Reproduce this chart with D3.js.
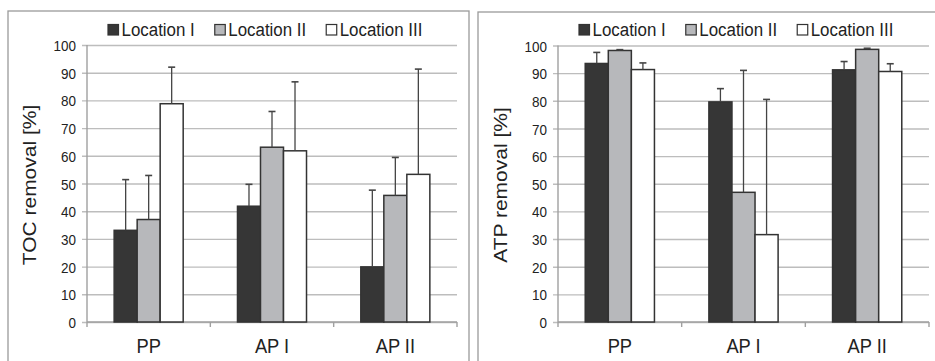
<!DOCTYPE html>
<html><head><meta charset="utf-8">
<script src="https://cdn.jsdelivr.net/npm/d3@7/dist/d3.min.js"></script>
<style>body{margin:0;background:#fff;}svg{display:block;font-family:"Liberation Sans",Arial,sans-serif;}</style>
</head><body>
<svg id="c" width="935" height="361"></svg>
<script>
const categories = ["PP", "AP I", "AP II"];
const seriesNames = ["Location I", "Location II", "Location III"];
const yTicks = [0, 10, 20, 30, 40, 50, 60, 70, 80, 90, 100];

const tocL1 = [33.1, 41.8, 19.9];
const tocL2 = [37.0, 63.1, 45.7];
const tocL3 = [78.8, 61.8, 53.3];
const tocErrL1 = [51.4, 49.7, 47.6];
const tocErrL2 = [52.9, 76.0, 59.4];
const tocErrL3 = [92.0, 86.7, 91.3];

const atpL1 = [93.5, 79.6, 91.2];
const atpL2 = [98.2, 46.9, 98.6];
const atpL3 = [91.3, 31.6, 90.6];
const atpErrL1 = [97.5, 84.4, 94.2];
const atpErrL2 = [98.5, 91.0, 99.0];
const atpErrL3 = [93.7, 80.5, 93.4];

const fills = ["#363636", "#b7b8bb", "#ffffff"];
const svg = d3.select("#c");

function panel(cfg) {
  const g = svg.append("g");
  g.append("rect").attr("x", cfg.bx).attr("y", cfg.by).attr("width", cfg.bw).attr("height", 400)
    .attr("fill", "none").attr("stroke", "#9a9a9a").attr("stroke-width", 1.3);

  const x0 = d3.scaleBand().domain(categories).range([cfg.x0, cfg.x1]).paddingInner(0).paddingOuter(0);
  const x1 = d3.scaleBand().domain(seriesNames).range([0, x0.bandwidth()]).paddingInner(0).paddingOuter(1.18);
  const y = d3.scaleLinear().domain([0, 100]).range([cfg.y0, cfg.y100]);

  const yAxis = d3.axisLeft(y).tickValues(yTicks).tickSize(-(cfg.x1 - cfg.x0)).tickFormat(d3.format("d"));
  const ya = g.append("g").attr("transform", `translate(${cfg.x0},0)`).call(yAxis);
  ya.select(".domain").remove();
  ya.selectAll(".tick line").attr("stroke", "#bdbdbd").attr("stroke-width", 1.4).attr("x1", -5);
  ya.selectAll(".tick text").attr("font-size", 15.5).attr("fill", "#222")
    .attr("x", null).attr("dy", "0.36em")
    .attr("transform", "translate(-11,0) scale(0.87,1)")
    .attr("font-family", "'Liberation Sans',Arial,sans-serif");
  g.append("line").attr("x1", cfg.x0).attr("x2", cfg.x0).attr("y1", y(100)).attr("y2", y(0))
    .attr("stroke", "#a0a0a0").attr("stroke-width", 1.4);
  g.append("line").attr("x1", cfg.x0).attr("x2", cfg.x1).attr("y1", y(0)).attr("y2", y(0))
    .attr("stroke", "#a0a0a0").attr("stroke-width", 1.4);
  const bounds = categories.map(c => x0(c)).concat([x0(categories[categories.length - 1]) + x0.bandwidth()]);
  g.selectAll(".xt").data(bounds).enter().append("line")
    .attr("x1", d => d).attr("x2", d => d).attr("y1", y(0)).attr("y2", y(0) + 5)
    .attr("stroke", "#a0a0a0").attr("stroke-width", 1.4);

  const rows = [];
  categories.forEach((c, i) => {
    seriesNames.forEach((s, j) => {
      rows.push({ c, s, j, v: cfg.vals[j][i], e: cfg.errs[j][i] });
    });
  });
  g.selectAll(".bar").data(rows).enter().append("rect")
    .attr("x", d => x0(d.c) + x1(d.s))
    .attr("y", d => y(d.v))
    .attr("width", x1.bandwidth())
    .attr("height", d => y(0) - y(d.v))
    .attr("fill", d => fills[d.j]).attr("stroke", "#333").attr("stroke-width", 1.5);

  const eb = g.selectAll(".eb").data(rows).enter().append("g");
  eb.append("line")
    .attr("x1", d => x0(d.c) + x1(d.s) + x1.bandwidth() / 2)
    .attr("x2", d => x0(d.c) + x1(d.s) + x1.bandwidth() / 2)
    .attr("y1", d => y(d.v)).attr("y2", d => y(d.e))
    .attr("stroke", "#444").attr("stroke-width", 1.3);
  eb.append("line")
    .attr("x1", d => x0(d.c) + x1(d.s) + x1.bandwidth() / 2 - 3.5)
    .attr("x2", d => x0(d.c) + x1(d.s) + x1.bandwidth() / 2 + 3.5)
    .attr("y1", d => y(d.e)).attr("y2", d => y(d.e))
    .attr("stroke", "#444").attr("stroke-width", 1.6);

  g.selectAll(".cl").data(categories).enter().append("text")
    .attr("transform", d => `translate(${x0(d) + x0.bandwidth() / 2},352.5) scale(0.87,1)`)
    .attr("text-anchor", "middle").attr("font-size", 21).attr("fill", "#222").text(d => d);

  g.append("text")
    .attr("transform", `translate(${cfg.x0 - 51},${cfg.labelY}) rotate(-90) scale(1.2,1)`)
    .attr("text-anchor", "middle").attr("font-size", 17.5).attr("fill", "#222").text(cfg.ylabel);

  let lx = cfg.x0 + 21;
  seriesNames.forEach((s, j) => {
    g.append("rect").attr("x", lx).attr("y", 24.5).attr("width", 10.5).attr("height", 10.5)
      .attr("fill", fills[j]).attr("stroke", "#333").attr("stroke-width", 1.2);
    const t = g.append("text").attr("font-size", 19).attr("fill", "#222").text(s)
      .attr("transform", `translate(${lx + 13.5},36) scale(0.89,1)`);
    const w = t.node().getComputedTextLength() * 0.89;
    lx += 13.5 + w + 20;
  });
}

panel({ bx: 8, by: 11, bw: 461, x0: 87, x1: 457, y0: 322, y100: 45, labelY: 185,
  ylabel: "TOC removal [%]", vals: [tocL1, tocL2, tocL3], errs: [tocErrL1, tocErrL2, tocErrL3] });
panel({ bx: 478, by: 12, bw: 470, x0: 558, x1: 929, y0: 322, y100: 45.5, labelY: 185,
  ylabel: "ATP removal [%]", vals: [atpL1, atpL2, atpL3], errs: [atpErrL1, atpErrL2, atpErrL3] });
</script>
</body></html>
